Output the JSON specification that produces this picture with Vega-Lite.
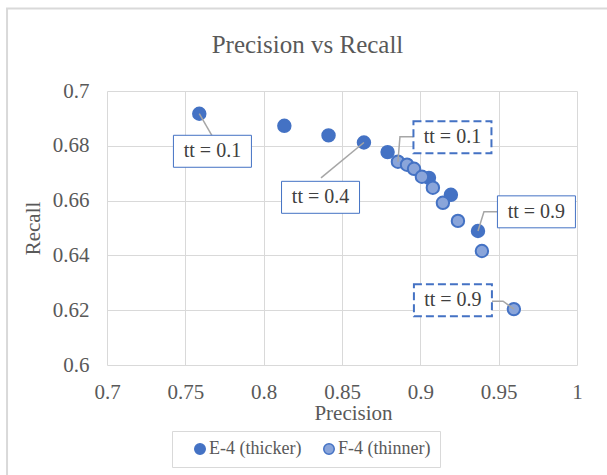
{
  "$schema": "https://vega.github.io/schema/vega-lite/v6.json",
  "width": 470,
  "height": 274,
  "autosize": {"type": "none"},
  "padding": {"left": 107, "top": 91, "right": 30, "bottom": 110},
  "background": "white",
  "title": {
    "text": "Precision vs Recall",
    "font": "Liberation Serif",
    "fontSize": 25,
    "fontWeight": "normal",
    "color": "#595959",
    "anchor": "middle",
    "frame": "group",
    "baseline": "alphabetic",
    "dx": -34.5,
    "offset": -70
  },
  "config": {
    "view": {"stroke": null},
    "font": "Liberation Serif"
  },
  "datasets": {
    "frame": [
      {"x0": 0.6362, "x1": 1.1, "y0": 0.7301, "y1": 0.5}
    ],
    "points": [
      {"series": "E-4 (thicker)", "tt": 0.1, "precision": 0.7589, "recall": 0.6917},
      {"series": "E-4 (thicker)", "tt": 0.2, "precision": 0.8132, "recall": 0.6873},
      {"series": "E-4 (thicker)", "tt": 0.3, "precision": 0.8414, "recall": 0.6838},
      {"series": "E-4 (thicker)", "tt": 0.4, "precision": 0.864, "recall": 0.6812},
      {"series": "E-4 (thicker)", "tt": 0.5, "precision": 0.8791, "recall": 0.6777},
      {"series": "E-4 (thicker)", "tt": 0.7, "precision": 0.9055, "recall": 0.6683},
      {"series": "E-4 (thicker)", "tt": 0.8, "precision": 0.9195, "recall": 0.6621},
      {"series": "E-4 (thicker)", "tt": 0.9, "precision": 0.9368, "recall": 0.6489},
      {"series": "F-4 (thinner)", "tt": 0.1, "precision": 0.8857, "recall": 0.6742},
      {"series": "F-4 (thinner)", "tt": 0.2, "precision": 0.8915, "recall": 0.6731},
      {"series": "F-4 (thinner)", "tt": 0.3, "precision": 0.896, "recall": 0.6716},
      {"series": "F-4 (thinner)", "tt": 0.4, "precision": 0.901, "recall": 0.6687},
      {"series": "F-4 (thinner)", "tt": 0.5, "precision": 0.908, "recall": 0.6647},
      {"series": "F-4 (thinner)", "tt": 0.6, "precision": 0.9144, "recall": 0.6592},
      {"series": "F-4 (thinner)", "tt": 0.7, "precision": 0.924, "recall": 0.6526},
      {"series": "F-4 (thinner)", "tt": 0.8, "precision": 0.9393, "recall": 0.6416},
      {"series": "F-4 (thinner)", "tt": 0.9, "precision": 0.9597, "recall": 0.6204}
    ],
    "leaders": [
      {"id": 1, "seq": 1, "precision": 0.7589, "recall": 0.6917},
      {"id": 1, "seq": 2, "precision": 0.767, "recall": 0.6837},
      {"id": 2, "seq": 1, "precision": 0.864, "recall": 0.6812},
      {"id": 2, "seq": 2, "precision": 0.8366, "recall": 0.6683},
      {"id": 3, "seq": 1, "precision": 0.8857, "recall": 0.6742},
      {"id": 3, "seq": 2, "precision": 0.887, "recall": 0.6833},
      {"id": 3, "seq": 3, "precision": 0.896, "recall": 0.6833},
      {"id": 4, "seq": 1, "precision": 0.9368, "recall": 0.6489},
      {"id": 4, "seq": 2, "precision": 0.9406, "recall": 0.6559},
      {"id": 4, "seq": 3, "precision": 0.9496, "recall": 0.6559},
      {"id": 5, "seq": 1, "precision": 0.9597, "recall": 0.6204},
      {"id": 5, "seq": 2, "precision": 0.9528, "recall": 0.6233},
      {"id": 5, "seq": 3, "precision": 0.9457, "recall": 0.6233}
    ],
    "callouts": [
      {"series": "E-4 (thicker)", "label": "tt = 0.1", "precision": 0.7673, "recall": 0.678},
      {"series": "E-4 (thicker)", "label": "tt = 0.4", "precision": 0.8363, "recall": 0.6612},
      {"series": "E-4 (thicker)", "label": "tt = 0.9", "precision": 0.9741, "recall": 0.6559},
      {"series": "F-4 (thinner)", "label": "tt = 0.1", "precision": 0.9205, "recall": 0.6831},
      {"series": "F-4 (thinner)", "label": "tt = 0.9", "precision": 0.9208, "recall": 0.6236}
    ]
  },
  "layer": [
    {
      "data": {"name": "points"},
      "mark": {"type": "point", "filled": true, "size": 155, "opacity": 1, "stroke": "#4472C4", "strokeWidth": 2},
      "encoding": {
        "x": {
          "field": "precision",
          "type": "quantitative",
          "scale": {"domain": [0.7, 1], "nice": false, "zero": false},
          "axis": {
            "values": [0.7, 0.75, 0.8, 0.85, 0.9, 0.95, 1],
            "format": "~g",
            "grid": true,
            "gridColor": "#d9d9d9",
            "gridWidth": 1,
            "domain": false,
            "ticks": false,
            "tickSize": 0,
            "labelPadding": 16,
            "labelFont": "Liberation Serif",
            "labelFontSize": 21,
            "labelColor": "#595959",
            "labelFlush": false,
            "labelOverlap": false,
            "title": "Precision",
            "titleFont": "Liberation Serif",
            "titleFontSize": 21,
            "titleFontWeight": "normal",
            "titleColor": "#595959",
            "titleBaseline": "alphabetic",
            "titleX": 246,
            "titleY": 54
          }
        },
        "y": {
          "field": "recall",
          "type": "quantitative",
          "scale": {"domain": [0.6, 0.7], "nice": false, "zero": false},
          "axis": {
            "values": [0.6, 0.62, 0.64, 0.66, 0.68, 0.7],
            "format": "~g",
            "grid": true,
            "gridColor": "#d9d9d9",
            "gridWidth": 1,
            "domain": false,
            "ticks": false,
            "tickSize": 0,
            "labelPadding": 18,
            "labelFont": "Liberation Serif",
            "labelFontSize": 21,
            "labelColor": "#595959",
            "labelFlush": false,
            "labelOverlap": false,
            "title": "Recall",
            "titleFont": "Liberation Serif",
            "titleFontSize": 21,
            "titleFontWeight": "normal",
            "titleColor": "#595959",
            "titleBaseline": "alphabetic",
            "titleAngle": 270,
            "titleX": -67.5,
            "titleY": 137
          }
        },
        "fill": {
          "field": "series",
          "type": "nominal",
          "scale": {"domain": ["E-4 (thicker)", "F-4 (thinner)"], "range": ["#4472C4", "#8aa5da"]},
          "legend": {
            "title": null,
            "orient": "none",
            "legendX": 65,
            "legendY": 340,
            "direction": "horizontal",
            "padding": 9,
            "strokeColor": "#d9d9d9",
            "fillColor": "white",
            "labelFont": "Liberation Serif",
            "labelFontSize": 18,
            "labelColor": "#595959",
            "labelOffset": 0,
            "labelLimit": 200,
            "columnPadding": 8,
            "symbolType": "circle",
            "symbolSize": 110,
            "symbolOpacity": 1,
            "symbolStrokeColor": "#4472C4",
            "symbolStrokeWidth": 1.5,
            "symbolOffset": 10
          }
        }
      }
    },
    {
      "data": {"name": "leaders"},
      "mark": {"type": "line", "stroke": "#a6a6a6", "strokeWidth": 1.5},
      "encoding": {
        "x": {"field": "precision", "type": "quantitative"},
        "y": {"field": "recall", "type": "quantitative"},
        "detail": {"field": "id", "type": "nominal"},
        "order": {"field": "seq", "type": "quantitative"}
      }
    },
    {
      "data": {"name": "callouts"},
      "transform": [{"filter": "datum.series === 'E-4 (thicker)'"}],
      "mark": {"type": "point", "shape": "M-1,-0.41L1,-0.41L1,0.41L-1,0.41Z", "size": 6084, "filled": true, "fill": "white", "opacity": 1, "stroke": "#4472C4", "strokeWidth": 1},
      "encoding": {
        "x": {"field": "precision", "type": "quantitative"},
        "y": {"field": "recall", "type": "quantitative"}
      }
    },
    {
      "data": {"name": "callouts"},
      "transform": [{"filter": "datum.series === 'F-4 (thinner)'"}],
      "mark": {"type": "point", "shape": "M-1,-0.41L1,-0.41L1,0.41L-1,0.41Z", "size": 6084, "filled": true, "fill": "white", "opacity": 1, "stroke": "#4472C4", "strokeWidth": 2, "strokeDash": [8, 4]},
      "encoding": {
        "x": {"field": "precision", "type": "quantitative"},
        "y": {"field": "recall", "type": "quantitative"}
      }
    },
    {
      "data": {"name": "callouts"},
      "mark": {"type": "text", "font": "Liberation Serif", "fontSize": 20, "color": "#404040", "align": "center", "baseline": "middle"},
      "encoding": {
        "x": {"field": "precision", "type": "quantitative"},
        "y": {"field": "recall", "type": "quantitative"},
        "text": {"field": "label", "type": "nominal"}
      }
    },
    {
      "data": {"name": "frame"},
      "mark": {"type": "rect", "fill": "transparent", "stroke": "#d9d9d9", "strokeWidth": 2, "clip": false},
      "encoding": {
        "x": {"field": "x0", "type": "quantitative"},
        "x2": {"field": "x1"},
        "y": {"field": "y0", "type": "quantitative"},
        "y2": {"field": "y1"}
      }
    }
  ]
}
